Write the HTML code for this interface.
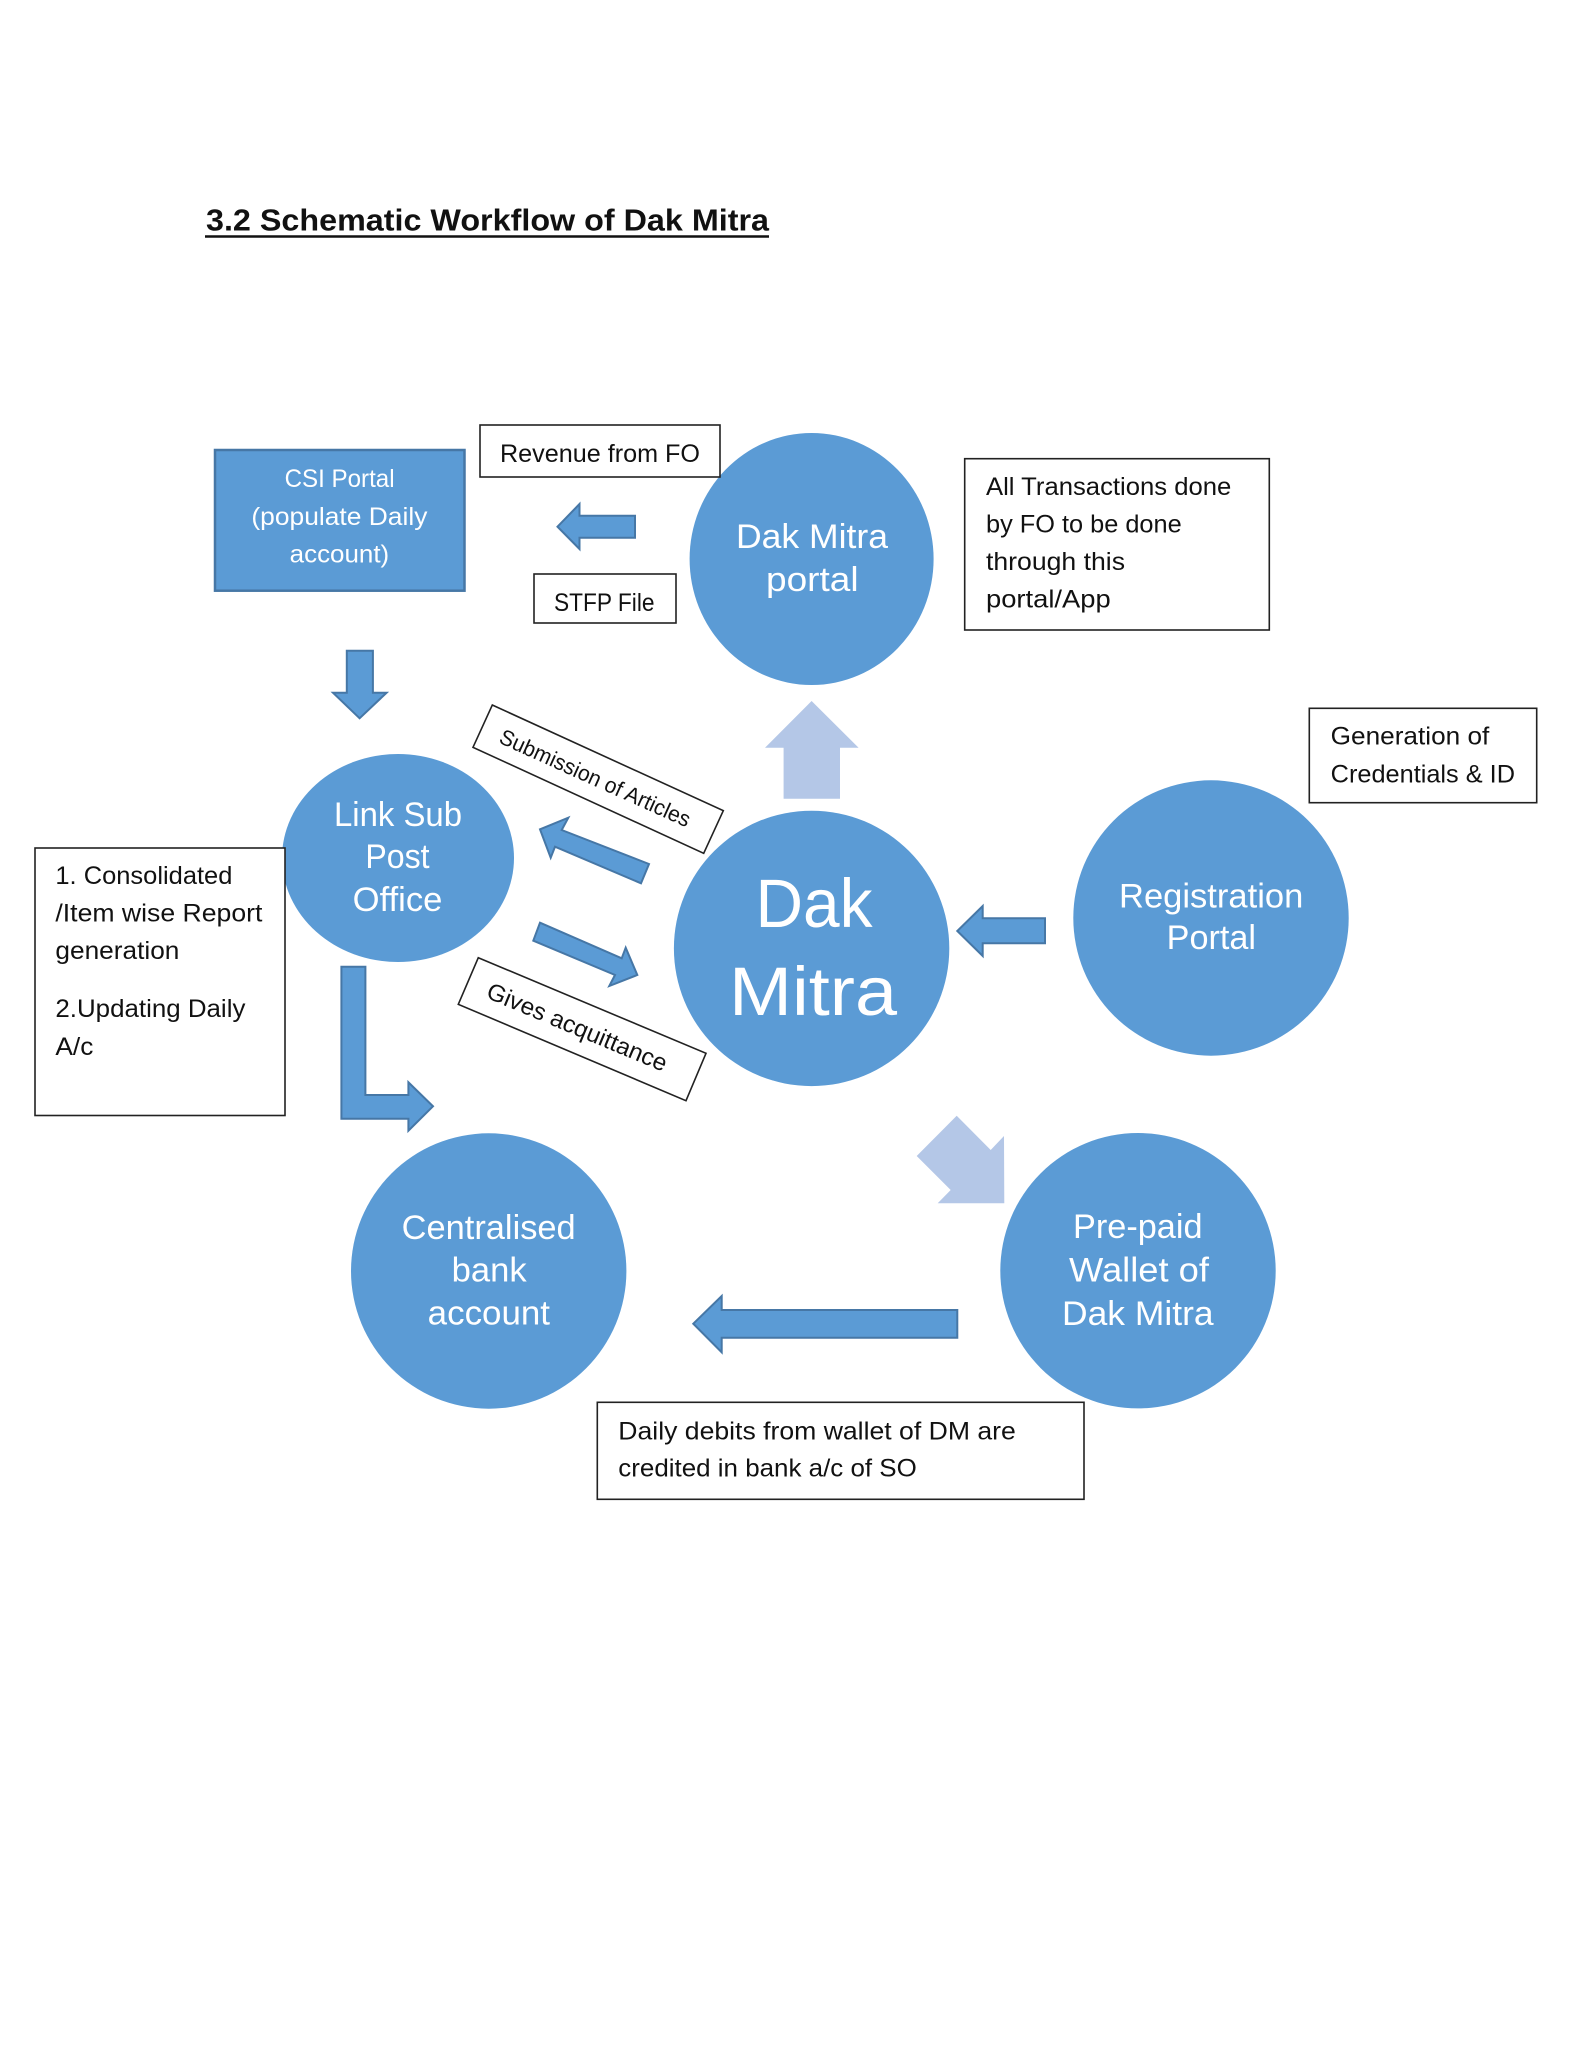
<!DOCTYPE html>
<html lang="en">
<head>
<meta charset="utf-8">
<title>3.2 Schematic Workflow of Dak Mitra</title>
<style>
html,body{margin:0;padding:0;background:#fff;}
svg{display:block;}
text{font-family:"Liberation Sans",sans-serif;}
.c{fill:#5B9BD5;}
.a{fill:#5B9BD5;stroke:#4677A6;stroke-width:2;stroke-linejoin:miter;}
.l{fill:#B4C7E7;stroke:none;}
.b{fill:#fff;stroke:#222;stroke-width:1.6;}
.w{fill:#fff;}
.k{fill:#111;}
.s25{font-size:25px;}
.s24{font-size:25px;}
.s34{font-size:34px;}
.s68{font-size:69px;}
</style>
</head>
<body>
<svg width="1583" height="2048" viewBox="0 0 1583 2048" xmlns="http://www.w3.org/2000/svg">
<rect width="1583" height="2048" fill="#fff"/>

<!-- Title -->
<text x="206" y="230.5" font-size="31" font-weight="bold" class="k" textLength="563" lengthAdjust="spacingAndGlyphs">3.2 Schematic Workflow of Dak Mitra</text>
<line x1="205" y1="236.5" x2="769" y2="236.5" stroke="#111" stroke-width="2.5"/>

<!-- Circles -->
<ellipse class="c" cx="811.6" cy="559" rx="122" ry="126"/>
<ellipse class="c" cx="398" cy="858" rx="116" ry="104"/>
<circle class="c" cx="811.6" cy="948.4" r="137.7"/>
<circle class="c" cx="1211" cy="918" r="137.7"/>
<circle class="c" cx="488.7" cy="1271" r="137.7"/>
<circle class="c" cx="1138" cy="1270.7" r="137.7"/>

<!-- CSI rectangle -->
<rect x="215" y="450" width="249.5" height="140.7" fill="#5B9BD5" stroke="#4677A6" stroke-width="2.5"/>
<text class="w s25" x="284.6" y="487" textLength="110" lengthAdjust="spacingAndGlyphs">CSI Portal</text>
<text class="w s25" x="251.4" y="525" textLength="176" lengthAdjust="spacingAndGlyphs">(populate Daily</text>
<text class="w s25" x="289.7" y="562.5" textLength="99.5" lengthAdjust="spacingAndGlyphs">account)</text>

<!-- Boxes -->
<rect class="b" x="480" y="425" width="240" height="52"/>
<text class="k s24" x="500" y="462" textLength="200" lengthAdjust="spacingAndGlyphs">Revenue from FO</text>

<rect class="b" x="534" y="574" width="142" height="49"/>
<text class="k s24" x="554" y="611" textLength="100.5" lengthAdjust="spacingAndGlyphs">STFP File</text>

<rect class="b" x="964.7" y="458.7" width="304.6" height="171.3"/>
<text class="k s24" x="986" y="495" textLength="245.3" lengthAdjust="spacingAndGlyphs">All Transactions done</text>
<text class="k s24" x="986" y="532.5" textLength="195.7" lengthAdjust="spacingAndGlyphs">by FO to be done</text>
<text class="k s24" x="986" y="570" textLength="139" lengthAdjust="spacingAndGlyphs">through this</text>
<text class="k s24" x="986" y="607.5" textLength="124.7" lengthAdjust="spacingAndGlyphs">portal/App</text>

<rect class="b" x="1309.3" y="708.3" width="227.4" height="94.4"/>
<text class="k s24" x="1330.7" y="744.5" textLength="158.6" lengthAdjust="spacingAndGlyphs">Generation of</text>
<text class="k s24" x="1330.7" y="782.3" textLength="184.3" lengthAdjust="spacingAndGlyphs">Credentials &amp; ID</text>

<rect class="b" x="35" y="848" width="250" height="267.5"/>
<text class="k s24" x="55.4" y="884" textLength="177" lengthAdjust="spacingAndGlyphs">1. Consolidated</text>
<text class="k s24" x="55.4" y="921.7" textLength="207" lengthAdjust="spacingAndGlyphs">/Item wise Report</text>
<text class="k s24" x="55.4" y="959" textLength="124" lengthAdjust="spacingAndGlyphs">generation</text>
<text class="k s24" x="55.4" y="1017" textLength="190" lengthAdjust="spacingAndGlyphs">2.Updating Daily</text>
<text class="k s24" x="55.4" y="1055" textLength="38" lengthAdjust="spacingAndGlyphs">A/c</text>

<rect class="b" x="597.3" y="1402.3" width="486.7" height="97"/>
<text class="k s24" x="618.3" y="1439.3" textLength="397.5" lengthAdjust="spacingAndGlyphs">Daily debits from wallet of DM are</text>
<text class="k s24" x="618.3" y="1476.7" textLength="298.5" lengthAdjust="spacingAndGlyphs">credited in bank a/c of SO</text>

<!-- Rotated labels -->
<polygon class="b" points="492.3,705 723.3,810.7 703.7,853.3 473,747.3"/>
<text class="k" font-size="22" transform="translate(497.7,742.3) rotate(24.3)" textLength="207" lengthAdjust="spacingAndGlyphs">Submission of Articles</text>

<polygon class="b" points="478.3,957.7 706,1053.3 686,1100.7 458.3,1004.3"/>
<text class="k" font-size="24" transform="translate(485,997.3) rotate(22.7)" textLength="193" lengthAdjust="spacingAndGlyphs">Gives acquittance</text>

<!-- Blue arrows -->
<polygon class="a" points="557.5,526.7 579.5,504 579.5,515.7 635,515.7 635,537.7 579.5,537.7 579.5,549"/>
<polygon class="a" points="346.8,650.7 372.9,650.7 372.9,692.7 386.6,692.7 359.6,718.3 333,692.7 346.8,692.7"/>
<polygon class="a" points="540,829.3 568.3,817.7 561.7,830 649,864 641,883.3 555,846.7 550.7,857.7"/>
<polygon class="a" points="540,922.7 621.7,958.3 625.7,947.7 637.3,975 609.3,986 615,975 533.3,940.7"/>
<polygon class="a" points="341.4,966.7 365.4,966.7 365.4,1095 408.4,1095 408.4,1082.3 433,1106.3 408.4,1130.7 408.4,1118.7 341.4,1118.7"/>
<polygon class="a" points="957.3,931 982.7,906 982.7,918.3 1045,918.3 1045,943.3 982.7,943.3 982.7,956"/>
<polygon class="a" points="693.3,1323.7 721.7,1296 721.7,1310 957.3,1310 957.3,1337.7 721.7,1337.7 721.7,1352.3"/>

<!-- Light arrows -->
<polygon class="l" points="811.6,701 858.6,747.7 840,747.7 840,798.7 783.6,798.7 783.6,747.7 765,747.7"/>
<polygon class="l" points="956.7,1115.7 990.7,1150 1004,1136 1004.3,1203.3 937.7,1203.3 950.7,1190 916.7,1156"/>

<!-- Circle labels -->
<text class="w s34" x="736" y="548" textLength="152" lengthAdjust="spacingAndGlyphs">Dak Mitra</text>
<text class="w s34" x="766" y="591" textLength="92.6" lengthAdjust="spacingAndGlyphs">portal</text>

<text class="w s34" x="334" y="826" textLength="128" lengthAdjust="spacingAndGlyphs">Link Sub</text>
<text class="w s34" x="365.4" y="868" textLength="64.2" lengthAdjust="spacingAndGlyphs">Post</text>
<text class="w s34" x="352.7" y="911" textLength="89.7" lengthAdjust="spacingAndGlyphs">Office</text>

<text class="w s68" x="755.5" y="927" textLength="117" lengthAdjust="spacingAndGlyphs">Dak</text>
<text class="w s68" x="729" y="1015" textLength="168" lengthAdjust="spacingAndGlyphs">Mitra</text>

<text class="w s34" x="1119" y="907.3" textLength="184.3" lengthAdjust="spacingAndGlyphs">Registration</text>
<text class="w s34" x="1166.7" y="949" textLength="89.3" lengthAdjust="spacingAndGlyphs">Portal</text>

<text class="w s34" x="401.7" y="1239" textLength="174" lengthAdjust="spacingAndGlyphs">Centralised</text>
<text class="w s34" x="451.7" y="1281.7" textLength="75" lengthAdjust="spacingAndGlyphs">bank</text>
<text class="w s34" x="427.7" y="1324.3" textLength="122.3" lengthAdjust="spacingAndGlyphs">account</text>

<text class="w s34" x="1073" y="1238" textLength="129.5" lengthAdjust="spacingAndGlyphs">Pre-paid</text>
<text class="w s34" x="1069" y="1281.7" textLength="140" lengthAdjust="spacingAndGlyphs">Wallet of</text>
<text class="w s34" x="1062" y="1325" textLength="151.6" lengthAdjust="spacingAndGlyphs">Dak Mitra</text>
</svg>
</body>
</html>
